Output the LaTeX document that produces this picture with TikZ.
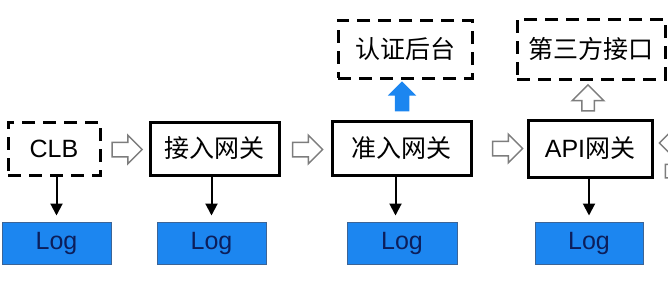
\documentclass[tikz,border=0pt]{standalone}
\usepackage{fontspec}
\setmainfont{Liberation Sans}
\newfontfamily\cjk{Noto Sans CJK SC}
\usepackage{tikz}
\usetikzlibrary{shapes.arrows,arrows.meta,positioning}

\definecolor{logblue}{RGB}{28,134,240}
\definecolor{logtext}{RGB}{12,30,90}
\definecolor{logedge}{RGB}{60,100,150}
\definecolor{hollowgray}{RGB}{125,125,125}

\begin{document}
\begin{tikzpicture}[
    x=1pt, y=1pt,
    font=\fontsize{12.5}{14}\selectfont,
    gate/.style={rectangle, draw, line width=1.5pt, fill=white, inner sep=0pt},
    outside/.style={rectangle, draw, line width=1.5pt, dash pattern=on 6.5pt off 4pt, inner sep=0pt},
    logbox/.style={rectangle, draw=logedge, line width=0.5pt, fill=logblue, text=logtext, minimum width=54.5pt, minimum height=21pt, inner sep=0pt},
    hollow/.style={single arrow, draw=hollowgray, line width=0.75pt, fill=white, inner xsep=0pt, inner ysep=3.25pt, single arrow head extend=3.5pt, minimum height=15pt, minimum width=13.5pt},
    upward/.style={hollow, shape border rotate=90, inner xsep=3.25pt, inner ysep=0pt},
    logline/.style={draw, line width=1pt, -{Triangle[width=6pt,length=6pt]}, shorten >=3pt}
]
    \useasboundingbox (0,0) rectangle (334,-142);
    \clip (0,0) rectangle (334,-142);

    % Main chain
    \node [outside, minimum width=46pt, minimum height=26.5pt] (clb) at (27,-74.25) {CLB};
    \node [gate, minimum width=64.5pt, minimum height=26.5pt] (access) at (107.25,-74.25) {\cjk 接入网关};
    \node [gate, minimum width=69.5pt, minimum height=27pt] (admit) at (200.75,-74) {\cjk 准入网关};
    \node [gate, minimum width=62pt, minimum height=28.5pt] (api) at (295,-74.25) {API{\cjk 网关}};

    % Upstream services
    \node [outside, minimum width=67pt, minimum height=29pt] (auth) at (202.5,-24.5) {\cjk 认证后台};
    \node [outside, minimum width=74pt, minimum height=30pt] (third) at (295.5,-24.5) {\cjk 第三方接口};

    % Logs
    \node [logbox] (log1) at (28.25,-121.5) {Log};
    \node [logbox] (log2) at (105.75,-121.5) {Log};
    \node [logbox, minimum width=55pt] (log3) at (201,-121.5) {Log};
    \node [logbox, minimum width=54pt] (log4) at (294.5,-121.5) {Log};

    % Block arrows between stages
    \node [hollow] (step1) at (61.75,-74.75) {};
    \node [hollow] (step2) at (152,-74.75) {};
    \node [hollow] (step3) at (252,-74.25) {};
    \node [upward, draw=none, fill=logblue, minimum width=13pt] (toauth) at (201,-50) {};
    \node [upward, inner xsep=2.75pt, minimum height=13pt, minimum width=15pt, single arrow head extend=4.75pt] (tothird) at (294,-50.5) {};

    % Cut-off arrows at the right edge
    \node [hollow, shape border rotate=180, minimum width=15pt, single arrow head extend=4.5pt] (back) at (339,-71.5) {};
    \node [hollow, inner ysep=3pt, single arrow head extend=3.75pt] (forth) at (338.5,-85.5) {};

    % Logging
    \path [logline] (log1.north |- clb.south) -- (log1.north);
    \path [logline] (log2.north |- access.south) -- (log2.north);
    \path [logline] ([xshift=-3pt]admit.south) -- ([xshift=-3pt]admit.south |- log3.north);
    \path [logline] (log4.north |- api.south) -- (log4.north);

\end{tikzpicture}
\end{document}
